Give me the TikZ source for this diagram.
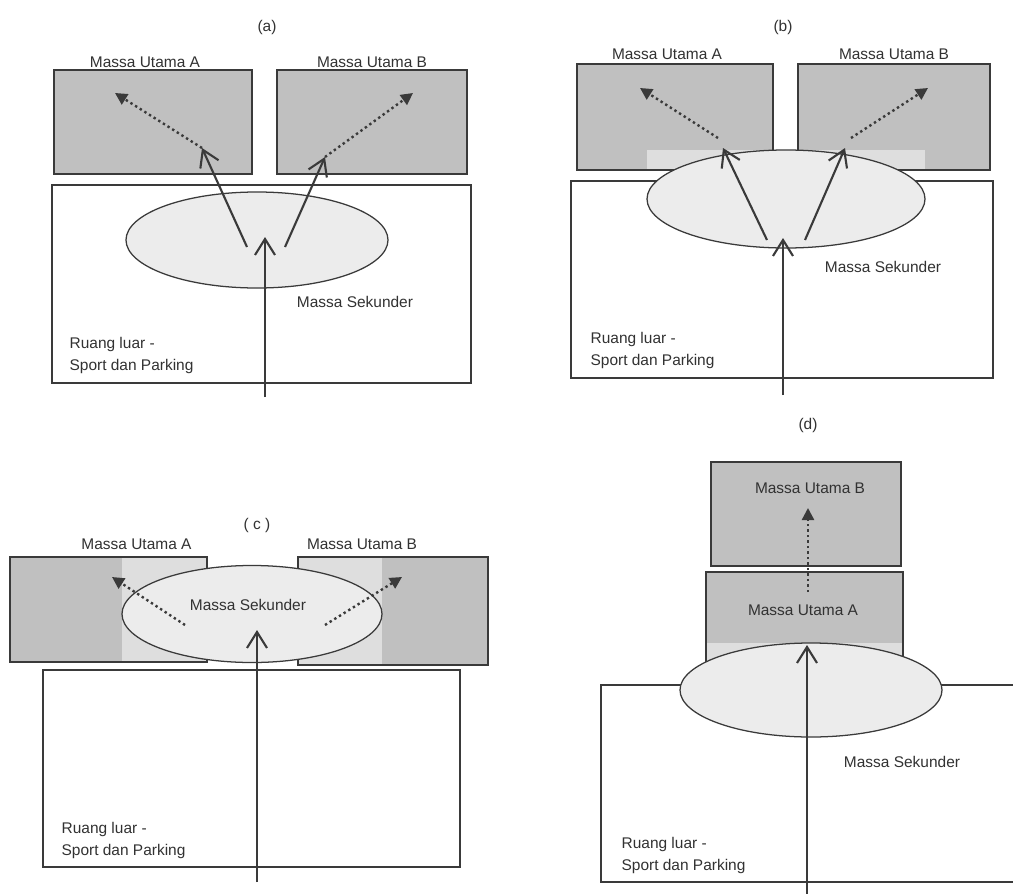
\documentclass[tikz,border=0pt]{standalone}
\usepackage{fontspec}
\setmainfont{Liberation Sans}
\usetikzlibrary{arrows.meta,positioning,fit,shapes.geometric}
\definecolor{massfill}{RGB}{192,192,192}
\definecolor{overlapfill}{RGB}{222,222,222}
\definecolor{secfill}{RGB}{236,236,236}
\definecolor{inkgray}{RGB}{58,58,58}
\definecolor{textgray}{RGB}{50,50,50}

\begin{document}
\begin{tikzpicture}[
  x=0.25mm, y=-0.25mm,
  font=\fontsize{11}{15.5}\selectfont,
  text=textgray,
  massbox/.style={draw=inkgray, line width=0.9pt, fill=massfill, inner sep=0pt},
  outerbox/.style={draw=inkgray, line width=0.9pt, fill=white, inner sep=0pt},
  secellipse/.style={ellipse, draw=inkgray, line width=0.9pt, fill=secfill, inner sep=0pt},
  overlap/.style={fill=overlapfill},
  paneltitle/.style={inner sep=1pt},
  masslabel/.style={inner sep=1pt},
  arealabel/.style={align=left, inner sep=0pt},
  entryarrow/.style={-{Straight Barb[length=4mm,width=5mm]}, line width=1.5pt, draw=inkgray},
  linkarrow/.style={-{Triangle[length=3mm,width=3mm]}, line width=1.7pt,
    dash pattern=on 1.7pt off 2.2pt, draw=inkgray}
]
\clip (0,0) rectangle (1013,894);
\fill[white] (0,0) rectangle (1013,894);

% (a) main masses apart, secondary mass inside the outdoor space
\node[paneltitle] (aTitle) at (267,27) {(a)};
\node[massbox, fit={(54,70) (252,174)}] (aMassA) {};
\node[massbox, fit={(277,70) (467,174)}] (aMassB) {};
\node[masslabel, above=0pt of aMassA, xshift=-2mm] (aLabelA) {Massa Utama A};
\node[masslabel, above=0pt of aMassB] (aLabelB) {Massa Utama B};
\node[outerbox, fit={(52,185) (471,383)}] (aOuter) {};
\node[secellipse, minimum width=65.5mm, minimum height=24mm] (aSec) at (257,240) {};
\node[masslabel] (aSecLabel) at (355,302) {Massa Sekunder};
\node[arealabel, above right=2.5mm and 4.5mm of aOuter.south west] (aArea) {Ruang luar -\\Sport dan Parking};
\coordinate (aIn) at (265,397);
\coordinate (aEnd) at (265,237);
\coordinate (aFromA) at (247,247);
\coordinate (aToA) at (202,148);
\coordinate (aFarA) at (115,93);
\coordinate (aFromB) at (285,247);
\coordinate (aToB) at (325,157);
\coordinate (aFarB) at (413,93);
\draw[entryarrow] (aIn) -- (aEnd);
\draw[entryarrow] (aFromA) -- (aToA);
\draw[entryarrow] (aFromB) -- (aToB);
\draw[linkarrow] (aToA) -- (aFarA);
\draw[linkarrow] (aToB) -- (aFarB);

% (b) secondary mass touching both main masses
\node[paneltitle] (bTitle) at (783,27) {(b)};
\node[massbox, fit={(577,64) (773,170)}] (bMassA) {};
\node[massbox, fit={(798,64) (990,170)}] (bMassB) {};
\fill[overlap] (647,150) rectangle (772,169);
\fill[overlap] (799,150) rectangle (925,169);
\node[masslabel, above=0.5mm of bMassA, xshift=-2mm] (bLabelA) {Massa Utama A};
\node[masslabel, above=0.5mm of bMassB] (bLabelB) {Massa Utama B};
\node[outerbox, fit={(571,181) (993,378)}] (bOuter) {};
\node[secellipse, minimum width=69.5mm, minimum height=24.5mm] (bSec) at (786,199) {};
\node[masslabel] (bSecLabel) at (883,267) {Massa Sekunder};
\node[arealabel, above right=2.5mm and 5mm of bOuter.south west] (bArea) {Ruang luar -\\Sport dan Parking};
\coordinate (bIn) at (783,395);
\coordinate (bEnd) at (783,238);
\coordinate (bFromA) at (767,240);
\coordinate (bToA) at (723,148);
\coordinate (bFarA) at (640,88);
\coordinate (bFromB) at (805,240);
\coordinate (bToB) at (845,148);
\coordinate (bFarB) at (928,88);
\draw[entryarrow] (bIn) -- (bEnd);
\draw[entryarrow] (bFromA) -- (bToA);
\draw[entryarrow] (bFromB) -- (bToB);
\draw[linkarrow] (718,138) -- (bFarA);
\draw[linkarrow] (851,138) -- (bFarB);

% (c) secondary mass between the main masses
\node[paneltitle] (cTitle) at (257,525) {( c )};
\node[massbox, fit={(10,557) (207,662)}] (cMassA) {};
\node[massbox, fit={(298,557) (488,665)}] (cMassB) {};
\fill[overlap] (122,558) rectangle (206,661);
\fill[overlap] (299,558) rectangle (382,664);
\node[masslabel, above=1.2mm of cMassA, xshift=7mm] (cLabelA) {Massa Utama A};
\node[masslabel, above=1.2mm of cMassB, xshift=-7.75mm] (cLabelB) {Massa Utama B};
\node[outerbox, fit={(43,670) (460,867)}] (cOuter) {};
\node[secellipse, minimum width=65mm, minimum height=24.25mm] (cSec) at (252,614) {};
\node[masslabel] (cSecLabel) at (248,605) {Massa Sekunder};
\node[arealabel, above right=2.25mm and 4.75mm of cOuter.south west] (cArea) {Ruang luar -\\Sport dan Parking};
\coordinate (cIn) at (257,882);
\coordinate (cEnd) at (257,630);
\coordinate (cFromA) at (185,625);
\coordinate (cFarA) at (112,577);
\coordinate (cFromB) at (325,625);
\coordinate (cFarB) at (402,577);
\draw[entryarrow] (cIn) -- (cEnd);
\draw[linkarrow] (cFromA) -- (cFarA);
\draw[linkarrow] (cFromB) -- (cFarB);

% (d) main masses stacked behind the secondary mass
\node[paneltitle] (dTitle) at (808,425) {(d)};
\node[massbox, fit={(711,462) (901,566)}] (dMassB) {};
\node[massbox, fit={(706,572) (903,663)}] (dMassA) {};
\fill[overlap] (707,643) rectangle (902,662);
\node[outerbox, fit={(601,685) (1040,882)}] (dOuter) {};
\node[secellipse, minimum width=65.5mm, minimum height=23.5mm] (dSec) at (811,690) {};
\node[masslabel] (dLabelB) at (810,488) {Massa Utama B};
\node[masslabel] (dLabelA) at (803,610) {Massa Utama A};
\node[masslabel] (dSecLabel) at (902,762) {Massa Sekunder};
\node[arealabel, above right=2.25mm and 5.25mm of dOuter.south west] (dArea) {Ruang luar -\\Sport dan Parking};
\coordinate (dIn) at (807,900);
\coordinate (dEnd) at (807,645);
\coordinate (dFrom) at (808,592);
\coordinate (dTo) at (808,508);
\draw[entryarrow] (dIn) -- (dEnd);
\draw[linkarrow] (dFrom) -- (dTo);

\end{tikzpicture}
\end{document}
